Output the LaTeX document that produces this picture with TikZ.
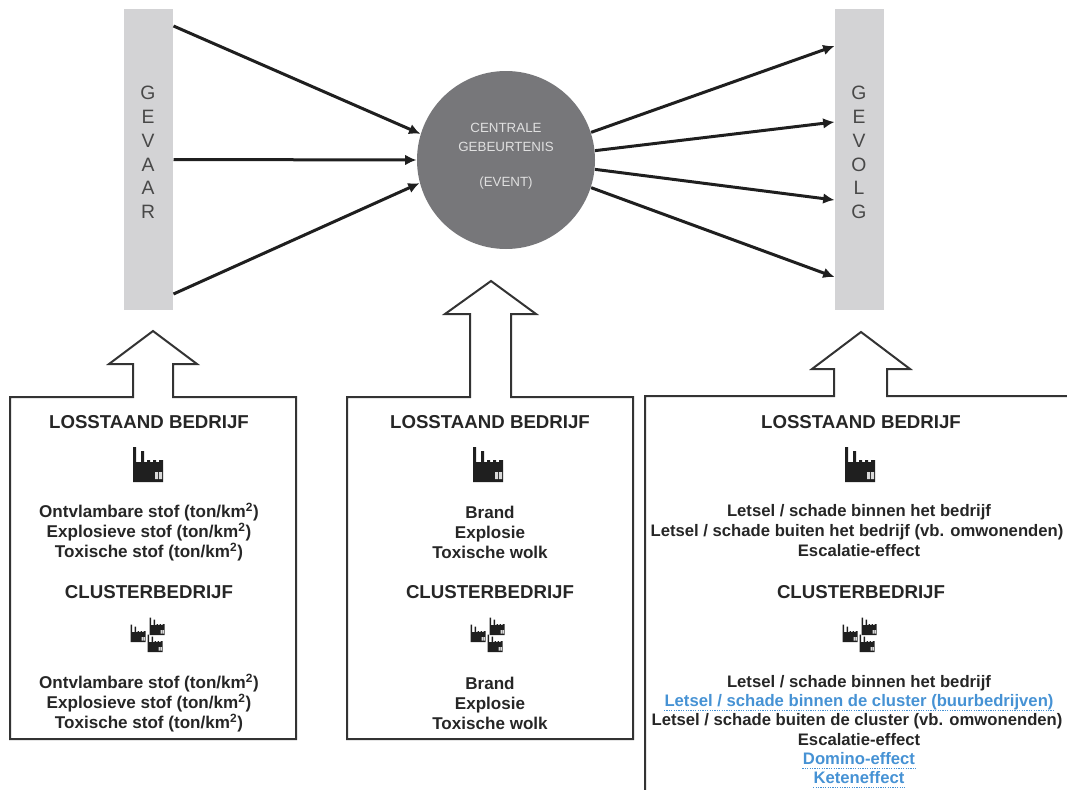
\documentclass[tikz,border=0pt]{standalone}
\usepackage{fontspec}
\setmainfont{Liberation Sans}
\usetikzlibrary{arrows.meta,calc}

\definecolor{barGrey}{RGB}{211,211,213}
\definecolor{eventGrey}{RGB}{119,119,122}
\definecolor{letterGrey}{RGB}{72,72,72}
\definecolor{linkBlue}{RGB}{70,146,212}

\tikzset{every picture/.style={line width=0.75pt},
  bar/.style={fill=barGrey, draw=none, minimum width=36.75pt, minimum height=225.75pt, inner sep=0pt},
  barletters/.style={text=letterGrey, align=center, inner sep=0pt, font=\fontsize{14.5}{17.85}\selectfont},
  eventnode/.style={circle, fill=eventGrey, draw=none, minimum size=133.5pt, inner sep=0pt},
  eventtext/.style={text=white!88!black, align=center, font=\fontsize{10}{14.25}\selectfont},
  flow/.style={line width=2.25pt, draw=black!88, -{Latex[length=8.5pt,width=8pt]}},
  boxline/.style={line width=1.5pt, draw=black!80, line join=miter},
  head/.style={font=\fontsize{14}{17}\selectfont\bfseries, text=black!85},
  body/.style={align=center, font=\fontsize{12.8}{15}\selectfont\bfseries, text=black!85},
  line/.style={inner sep=0pt, text height=9.2pt, text depth=2.6pt, font=\fontsize{12.5}{15}\selectfont\bfseries, text=black!85},
  linkline/.style={line, text=linkBlue},
  dotline/.style={draw=linkBlue, line width=0.9pt, dash pattern=on 0.9pt off 0.9pt},
  factory/.pic={
    \fill[black!88] (-15,-18) -- (-15,17) -- (-12,17) -- (-12,2) -- (-7,2) -- (-7,13) -- (-4,13) -- (-4,2)
      -- (-1,2) -- (-1,4) -- (2,4) -- (2,2) -- (5,2) -- (5,4) -- (8,4) -- (8,2) -- (11,2) -- (11,4)
      -- (15,4) -- (15,-18) -- cycle;
    \fill[white!85!black] (7,-8) rectangle (10,-15) (11,-8) rectangle (14,-15);
  },
  cluster/.pic={
    \pic[scale=0.5] at (-10,-1) {factory};
    \pic[scale=0.5] at (9,6) {factory};
    \pic[scale=0.5] at (7,-11) {factory};
  }
}

\begin{document}
\begin{tikzpicture}[x=0.75pt,y=0.75pt,yscale=-1,xscale=1]
    \useasboundingbox (0,0) rectangle (1067,789);
    \clip (0,0) rectangle (1067,789);

    % bars and central event
    \node[bar] (gevaar) at (148.5,159.5) {};
    \node[barletters] (gevaarText) at (148,152.5) {G\\E\\V\\A\\A\\R};
    \node[bar] (gevolg) at (859.5,159.5) {};
    \node[barletters] (gevolgText) at (859,152.5) {G\\E\\V\\O\\L\\G};
    \node[eventnode] (event) at (506,160) {};
    \node[eventtext] (eventText) at (506,156) {CENTRALE\\GEBEURTENIS\\[12pt](EVENT)};

    % arrows into the event
    \draw[flow] ($(gevaar.east)+(0,-133.5)$) -- (event.163);
    \draw[flow] (gevaar.east) -- (event.west);
    \draw[flow] ($(gevaar.east)+(0,134.5)$) -- (event.195);

    % arrows out of the event
    \draw[flow] (event.18) -- ($(gevolg.west)+(0,-113.5)$);
    \draw[flow] (event.6) -- ($(gevolg.west)+(0,-37.5)$);
    \draw[flow] (event.-6) -- ($(gevolg.west)+(0,40.5)$);
    \draw[flow] (event.-18) -- ($(gevolg.west)+(0,117.5)$);

    % boxes with up arrows
    \draw[boxline] (10,397) -- (133,397) -- (133,364) -- (109,364) -- (153,331) -- (197,364) -- (173,364) -- (173,397) -- (296,397) -- (296,739) -- (10,739) -- cycle;
    \draw[boxline] (347,397) -- (470,397) -- (470,314) -- (445,314) -- (491,281) -- (536,314) -- (511,314) -- (511,397) -- (633,397) -- (633,739) -- (347,739) -- cycle;
    \draw[boxline] (645,800) -- (645,396) -- (834,396) -- (834,369) -- (812,369) -- (861,332) -- (910,369) -- (887,369) -- (887,396) -- (1080,396);

    % left box: gevaar
    \node[head] (gevaarHead) at (149,422) {LOSSTAAND BEDRIJF};
    \pic at (148,464) {factory};
    \node[body] (gevaarLos) at (149,532) {Ontvlambare stof (ton/km\textsuperscript{2})\\Explosieve stof (ton/km\textsuperscript{2})\\Toxische stof (ton/km\textsuperscript{2})};
    \node[head] (gevaarClusterHead) at (149,592) {CLUSTERBEDRIJF};
    \pic at (148,632) {cluster};
    \node[body] (gevaarCluster) at (149,703) {Ontvlambare stof (ton/km\textsuperscript{2})\\Explosieve stof (ton/km\textsuperscript{2})\\Toxische stof (ton/km\textsuperscript{2})};

    % middle box: event
    \node[head] (eventHead) at (490,422) {LOSSTAAND BEDRIJF};
    \pic at (488,464) {factory};
    \node[body] (eventLos) at (490,532) {Brand\\Explosie\\Toxische wolk};
    \node[head] (eventClusterHead) at (490,592) {CLUSTERBEDRIJF};
    \pic at (488,632) {cluster};
    \node[body] (eventCluster) at (490,703) {Brand\\Explosie\\Toxische wolk};

    % right box: gevolg
    \node[head] (gevolgHead) at (861,422) {LOSSTAAND BEDRIJF};
    \pic at (860,464) {factory};
    \node[line] (gevolgBinnen) at (859,512) {Letsel / schade binnen het bedrijf};
    \node[line] (gevolgBuiten) at (857,532) {Letsel / schade buiten het bedrijf (vb. omwonenden)};
    \node[line] (gevolgEscalatie) at (859,552) {Escalatie-effect};
    \node[head] (gevolgClusterHead) at (861,592) {CLUSTERBEDRIJF};
    \pic at (860,632) {cluster};
    \node[line] (binnenLine) at (859,683) {Letsel / schade binnen het bedrijf};
    \node[linkline] (buurLine) at (859,702) {Letsel / schade binnen de cluster (buurbedrijven)};
    \node[line] (buitenLine) at (857,721) {Letsel / schade buiten de cluster (vb. omwonenden)};
    \node[line] (escalatieLine) at (859,741) {Escalatie-effect};
    \node[linkline] (dominoLine) at (859,760) {Domino-effect};
    \node[linkline] (keteLine) at (859,779) {Keteneffect};
    \draw[dotline] (buurLine.south west) -- (buurLine.south east);
    \draw[dotline] (dominoLine.south west) -- (dominoLine.south east);
    \draw[dotline] (keteLine.south west) -- (keteLine.south east);
\end{tikzpicture}
\end{document}
